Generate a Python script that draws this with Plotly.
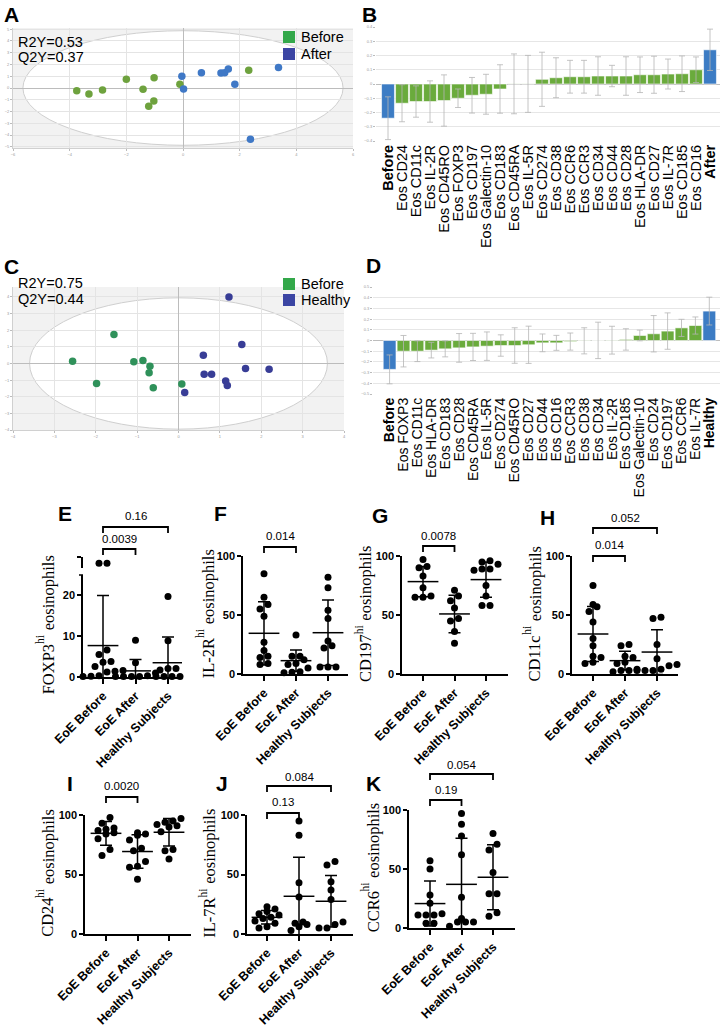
import plotly.graph_objects as go

W, H = 724, 1026
def PX(x): return x / W
def PY(y): return 1 - y / H

SANS = "Liberation Sans, Arial, sans-serif"
SERIF = "Liberation Serif, Times New Roman, serif"

# ---------------- DATA ----------------
# Panel A (scores, Before vs After)
a_before_x = [-3.75, -3.32, -2.84, -2.0, -1.41, -1.02, -1.03, -1.21, -0.11, 2.32]
a_before_y = [-0.23, -0.51, -0.17, 0.74, -0.11, 0.88, -1.11, -1.55, 0.31, 1.5]
a_after_x = [-0.04, 0.02, 0.65, 1.34, 1.47, 1.6, 1.83, 3.37, 2.38]
a_after_y = [0.99, -0.09, 1.3, 1.27, 1.3, 1.61, 0.31, 1.75, -4.35]
a_stats = ["R2Y=0.53", "Q2Y=0.37"]
a_legend = ["Before", "After"]

# Panel B (loadings, Before vs After)
b_cats = ["Before", "Eos CD24", "Eos CD11c", "Eos IL-2R", "Eos CD45RO", "Eos FOXP3", "Eos CD197",
          "Eos Galectin-10", "Eos CD183", "Eos CD45RA", "Eos IL-5R", "Eos CD274", "Eos CD38", "Eos CCR6",
          "Eos CCR3", "Eos CD34", "Eos CD44", "Eos CD28", "Eos HLA-DR", "Eos CD27", "Eos IL-7R",
          "Eos CD185", "Eos CD16", "After"]
b_vals = [-0.24, -0.135, -0.123, -0.123, -0.116, -0.10, -0.079, -0.072, -0.035, 0.001, 0.001, 0.033,
          0.044, 0.051, 0.051, 0.056, 0.056, 0.056, 0.065, 0.065, 0.07, 0.072, 0.10, 0.24]
b_err = [0.15, 0.13, 0.11, 0.145, 0.18, 0.065, 0.125, 0.14, 0.17, 0.21, 0.2, 0.19, 0.14, 0.115,
         0.115, 0.135, 0.075, 0.135, 0.125, 0.13, 0.105, 0.125, 0.09, 0.145]

# Panel C (scores, Before vs Healthy)
c_before_x = [-1.56, -2.56, -1.98, -1.08, -0.86, -0.69, -0.71, -0.61, 0.08]
c_before_y = [1.75, 0.14, -1.2, 0.1, 0.18, -0.16, -0.56, -1.46, -1.24]
c_healthy_x = [1.22, 1.53, 0.6, 0.62, 0.8, 1.62, 2.19, 1.14, 1.18, 0.15]
c_healthy_y = [4.0, 1.14, 0.5, -0.64, -0.64, -0.3, -0.34, -1.06, -1.32, -1.74]
c_stats = ["R2Y=0.75", "Q2Y=0.44"]
c_legend = ["Before", "Healthy"]

# Panel D (loadings, Before vs Healthy)
d_cats = ["Before", "Eos FOXP3", "Eos CD11c", "Eos HLA-DR", "Eos CD183", "Eos CD28", "Eos CD45RA",
          "Eos IL-5R", "Eos CD274", "Eos CD45RO", "Eos CD27", "Eos CD44", "Eos CD16", "Eos CCR3",
          "Eos CD38", "Eos CD34", "Eos IL-2R", "Eos CD185", "Eos Galectin-10", "Eos CD24",
          "Eos CD197", "Eos CCR6", "Eos IL-7R", "Healthy"]
d_vals = [-0.27, -0.10, -0.10, -0.09, -0.078, -0.069, -0.06, -0.053, -0.047, -0.047, -0.04, -0.022,
          -0.022, -0.01, -0.003, 0.001, 0.003, 0.01, 0.047, 0.063, 0.088, 0.118, 0.14, 0.275]
d_err = [0.135, 0.147, 0.097, 0.073, 0.075, 0.134, 0.127, 0.133, 0.10, 0.166, 0.174, 0.083, 0.07,
         0.08, 0.122, 0.17, 0.13, 0.10, 0.05, 0.17, 0.17, 0.08, 0.08, 0.13]

# Dot plots E-K
groups = ["EoE Before", "EoE After", "Healthy Subjects"]

E_vals = [[36, 36, 6.6, 5.5, 3.8, 3.6, 2.6, 1.6, 1.4, 1.2, 0.3, 0.2, 0.1],
          [9.0, 3.5, 1.0, 0.3, 0.1, 0.1, 0.1, 0.1],
          [19.7, 8.9, 2.1, 2.1, 1.7, 0.1, 0.1, 0.1, 0.1]]
E_mean = [7.7, 1.5, 3.5]
E_sd = [12.3, 2.8, 6.3]
E_p = ["0.0039", "0.16"]

F_vals = [[85, 65, 59, 55, 49, 27, 20, 15, 14, 9, 8],
          [33, 15, 15, 12, 9, 8, 5, 2, 1.5, 1],
          [82, 73, 54, 47, 28, 24, 22, 6, 6, 6]]
F_mean = [34.5, 11.3, 35.0]
F_sd = [26.8, 9.0, 27.7]
F_p = ["0.014"]

G_vals = [[97, 91, 90, 83, 73, 66, 65, 65],
          [71, 66, 62, 56, 47, 45, 36, 26],
          [96, 95, 93, 89, 89, 88, 75, 66, 58, 58]]
G_mean = [78.3, 50.9, 80.0]
G_sd = [12.8, 15.9, 15.0]
G_p = ["0.0078"]

H_vals = [[75, 59, 57, 53, 44, 30, 24, 15, 14, 10, 9],
          [25, 24, 15, 14, 10, 9, 4, 3, 3, 2],
          [48, 47, 25, 13, 8, 7, 4, 3, 3, 3]]
H_mean = [33.9, 11.3, 18.6]
H_sd = [23.4, 7.9, 19.0]
H_p = ["0.014", "0.052"]

I_vals = [[98, 93, 89, 88, 87, 85, 84, 80, 71, 66],
          [85, 84, 83, 79, 72, 70, 61, 57, 56, 46],
          [97, 95, 94, 92, 91, 90, 86, 71, 70, 63]]
I_mean = [84.6, 69.3, 85.5]
I_sd = [10.0, 14.0, 11.6]
I_p = ["0.0020"]

J_vals = [[23, 21, 19, 17, 16, 14, 13, 11, 9, 6, 5],
          [95, 83, 43, 31, 10, 9, 8, 6, 3],
          [61, 58, 44, 37, 29, 10, 8, 5, 5]]
J_mean = [14.0, 31.7, 27.5]
J_sd = [5.7, 32.9, 21.7]
J_p = ["0.13", "0.084"]

K_vals = [[57, 50, 28, 21, 12, 11, 11, 11, 4, 4],
          [97, 88, 78, 62, 26, 8, 5, 5, 5, 1.5],
          [80, 71, 66, 47, 29, 29, 13, 10]]
K_mean = [20.7, 37.0, 43.0]
K_sd = [19.1, 39.0, 27.5]
K_p = ["0.19", "0.054"]

# ---------------- FIGURE ----------------
fig = go.Figure()
shapes, annots = [], []
layout = dict(width=W, height=H, margin=dict(l=0, r=0, t=0, b=0, autoexpand=False),
              paper_bgcolor="white", plot_bgcolor="white", showlegend=False,
              font=dict(family=SANS, color="black"))

def label(letter, x, y, size=21):
    annots.append(dict(text=letter, x=PX(x), y=PY(y), xref="paper", yref="paper",
                       showarrow=False, xanchor="center", yanchor="middle",
                       font=dict(family=SANS, size=size, color="black", weight="bold")))

tiny = dict(size=4, color="#9a9a9a")

# Times / Liberation Serif advance widths (per 1000 em) for the title glyphs
TW = {"F": 556, "O": 722, "X": 722, "P": 556, "3": 500, "I": 333, "L": 611, "-": 333, "2": 500,
      "R": 667, "C": 667, "D": 722, "1": 500, "9": 500, "7": 500, "c": 444, "4": 500, "6": 500,
      " ": 250, "e": 444, "o": 500, "s": 389, "i": 278, "n": 500, "p": 500, "h": 500, "l": 278}
def twidth(t, size):
    return sum(TW.get(ch, 500) for ch in t) * size / 1000.0

def ytitle(xc, yc, marker, size=16.5):
    """Rotated title: '<marker>' + superscript 'hi' + ' eosinophils' (reads bottom to top)."""
    parts = [(marker, size, 0.0), ("hi", size * 0.7, -7.5), (" eosinophils", size, 0.0)]
    total = sum(twidth(t, s) for t, s, _ in parts)
    ybot = yc + total / 2
    for t, s, dx in parts:
        annots.append(dict(text=t, x=PX(xc + dx), y=PY(ybot), xref="paper", yref="paper",
                           showarrow=False, textangle=-90, xanchor="center", yanchor="bottom",
                           borderpad=0, font=dict(family=SERIF, size=s, color="black")))
        ybot -= twidth(t, s)

# ---- Score plots (A, C) ----
def score_panel(n, xl, xr, yt, yb, xrng, yrng, ell, gx, gy, bx, by, gcol, bcol, stats, legend,
                lgcol, lbcol, stat_y, leg_y, leg_x):
    xa, ya = ("xaxis" if n == 1 else f"xaxis{n}"), ("yaxis" if n == 1 else f"yaxis{n}")
    xr_, yr_ = ("x" if n == 1 else f"x{n}"), ("y" if n == 1 else f"y{n}")
    common = dict(showgrid=True, gridcolor="#e4e4e4", gridwidth=0.6, zeroline=True,
                  zerolinecolor="#bcbcbc", zerolinewidth=1, showline=True, linecolor="#d0d0d0",
                  ticks="outside", ticklen=2, tickcolor="#bbbbbb", tickfont=tiny, automargin=False)
    layout[xa] = dict(domain=[PX(xl), PX(xr)], range=xrng, dtick=1 if n == 3 else 2, anchor=yr_, **common)
    layout[ya] = dict(domain=[PY(yb), PY(yt)], range=yrng, dtick=1, anchor=xr_, **common)
    shapes.append(dict(type="rect", xref=f"{xr_} domain", yref=f"{yr_} domain", x0=0, x1=1, y0=0, y1=1,
                       fillcolor="#f2f2f2", line=dict(width=0), layer="below"))
    shapes.append(dict(type="circle", xref=xr_, yref=yr_, x0=-ell[0], x1=ell[0], y0=-ell[1], y1=ell[1],
                       fillcolor="white", line=dict(color="#cfcfcf", width=1), layer="below"))
    fig.add_trace(go.Scatter(x=gx, y=gy, mode="markers", xaxis=xr_, yaxis=yr_,
                             marker=dict(size=7.5, color=gcol), cliponaxis=False))
    fig.add_trace(go.Scatter(x=bx, y=by, mode="markers", xaxis=xr_, yaxis=yr_,
                             marker=dict(size=7.5, color=bcol), cliponaxis=False))
    for k, t in enumerate(stats):
        annots.append(dict(text=t, x=PX(xl + 3), y=PY(stat_y[k]), xref="paper", yref="paper",
                           showarrow=False, xanchor="left", yanchor="middle",
                           font=dict(family=SANS, size=14.5, color="black")))
    for k, (t, c) in enumerate(zip(legend, [lgcol, lbcol])):
        cy = leg_y[k]
        shapes.append(dict(type="rect", xref="paper", yref="paper", x0=PX(leg_x), x1=PX(leg_x + 12),
                           y0=PY(cy + 6), y1=PY(cy - 6), fillcolor=c, line=dict(width=0)))
        annots.append(dict(text=t, x=PX(leg_x + 16), y=PY(cy), xref="paper", yref="paper",
                           showarrow=False, xanchor="left", yanchor="middle",
                           font=dict(family=SANS, size=14.5, color="black")))

score_panel(1, 13, 353, 28, 148, [-6, 6], [-5.1, 5.1], (5.65, 4.87),
            a_before_x, a_before_y, a_after_x, a_after_y, "#6ea23e", "#3f78c6",
            a_stats, a_legend, "#33a84a", "#3b45a3", [42, 57], [37, 54], 283)
score_panel(3, 13, 344, 287, 430, [-4, 4], [-4, 4.6], (3.6, 3.95),
            c_before_x, c_before_y, c_healthy_x, c_healthy_y, "#2f915a", "#383d96",
            c_stats, c_legend, "#33a84a", "#3b45a3", [283, 299], [284, 300], 283)
label("A", 11, 15)
label("C", 11, 266)

# ---- Loading bar plots (B, D) ----
def bar_panel(n, xl, xr, yt, yb, cats, vals, errs, lim, c0px, step, fsize):
    xa, ya, xr_, yr_ = f"xaxis{n}", f"yaxis{n}", f"x{n}", f"y{n}"
    rng = [(xl - c0px) / step, (xr - c0px) / step]
    ticktext = [f"<b>{c}</b>" if k in (0, len(cats) - 1) else c for k, c in enumerate(cats)]
    layout[xa] = dict(domain=[PX(xl), PX(xr)], type="category", range=rng, anchor=yr_,
                      tickmode="array", tickvals=cats, ticktext=ticktext, tickangle=-90,
                      tickfont=dict(family=SANS, size=fsize, color="black"), ticks="",
                      showgrid=False, zeroline=False, showline=False, automargin=False)
    layout[ya] = dict(domain=[PY(yb), PY(yt)], range=[-lim, lim], dtick=0.1, anchor=xr_,
                      showgrid=True, gridcolor="#e6e6e6", gridwidth=0.6, zeroline=True,
                      zerolinecolor="#bdbdbd", zerolinewidth=1, showline=False,
                      ticks="outside", ticklen=2, tickcolor="#bbbbbb", tickfont=tiny, automargin=False)
    cols = ["#3c7cc4" if k in (0, len(cats) - 1) else "#6aab3c" for k in range(len(cats))]
    fig.add_trace(go.Bar(x=cats, y=vals, xaxis=xr_, yaxis=yr_, width=0.92,
                         marker=dict(color=cols, line=dict(color="white", width=0.6)),
                         error_y=dict(type="data", array=errs, color="#b5b5b5", thickness=0.8, width=3)))

bar_panel(2, 376, 720, 27, 141, b_cats, b_vals, b_err, 0.4, 388, 14.0, 14.5)
bar_panel(4, 373, 720, 287, 394, d_cats, d_vals, d_err, 0.5, 389.6, 13.9, 14.0)
label("B", 369, 15)
label("D", 374, 265)

# ---- Dot plots (E-K) ----
def swarm(vals, ppu, spacing=8.0, thresh=6.5):
    idx = sorted(range(len(vals)), key=lambda i: vals[i])
    rows = []
    for i in idx:
        if rows and abs(vals[i] - vals[rows[-1][0]]) * ppu < thresh:
            rows[-1].append(i)
        else:
            rows.append([i])
    offs = [0.0] * len(vals)
    for r in rows:
        for k, i in enumerate(r):
            offs[i] = (k - (len(r) - 1) / 2) * spacing
    return offs

geo_title = {5: 48, 7: 208, 8: 366, 9: 535, 10: 48, 11: 210, 12: 373}

def dot_panel(n, geo, vals, means, sds, marker, pvals, brackets, letter, lpos, ticks, break_at=None):
    xl, xr, c0, s, y0, ytop, vtop = geo
    xa, ya, xr_, yr_ = f"xaxis{n}", f"yaxis{n}", f"x{n}", f"y{n}"
    ppu = (y0 - ytop) / vtop
    layout[xa] = dict(domain=[PX(xl), PX(xr)], range=[(xl - c0) / s, (xr - c0) / s], anchor=yr_,
                      tickmode="array", tickvals=[0, 1, 2], ticktext=groups, tickangle=-45,
                      tickfont=dict(family=SANS, size=12.5, color="black", weight="bold"),
                      ticks="outside", ticklen=5, tickwidth=1.5, tickcolor="black", automargin=False,
                      showline=True, linecolor="black", linewidth=1.5, showgrid=False, zeroline=False)
    layout[ya] = dict(domain=[PY(y0), PY(ytop)], range=[0, vtop], anchor=xr_,
                      tickmode="array", tickvals=ticks, ticktext=[str(t) for t in ticks],
                      tickfont=dict(family=SANS, size=11, color="black", weight="bold"),
                      ticks="outside", ticklen=4, tickwidth=1.5, tickcolor="black", automargin=False,
                      showline=True, linecolor="black", linewidth=1.5, showgrid=False, zeroline=False)
    upper_x, upper_y = [], []
    for g, v in enumerate(vals):
        offs = swarm(v, ppu)
        lx, ly = [], []
        for val, o in zip(v, offs):
            if break_at is not None and val > break_at:
                upper_x.append(g + o / s)
                upper_y.append(val)
            else:
                lx.append(g + o / s)
                ly.append(val)
        fig.add_trace(go.Scatter(x=lx, y=ly, mode="markers", xaxis=xr_, yaxis=yr_, cliponaxis=False,
                                 marker=dict(size=7, color="black")))
    fig.add_trace(go.Scatter(x=[0, 1, 2], y=means, mode="markers", xaxis=xr_, yaxis=yr_, cliponaxis=True,
                             marker=dict(symbol="line-ew", size=22, color="black",
                                         line=dict(width=1.5, color="black")),
                             error_y=dict(type="data", array=sds, color="black", thickness=1.5, width=6)))
    if break_at is not None:
        shapes.append(dict(type="line", xref="paper", yref="paper", x0=PX(xl - 4), x1=PX(xl),
                           y0=PY(ytop), y1=PY(ytop), line=dict(color="black", width=1.5)))
        un = n + 1
        ya2, yr2 = f"yaxis{un}", f"y{un}"
        layout[ya2] = dict(domain=[PY(568), PY(557)], range=[33, 40], anchor=xr_,
                           tickmode="array", tickvals=[40], showticklabels=False, automargin=False,
                           ticks="outside", ticklen=4, tickwidth=1.5, tickcolor="black",
                           showline=True, linecolor="black", linewidth=1.5, showgrid=False, zeroline=False)
        fig.add_trace(go.Scatter(x=upper_x, y=upper_y, mode="markers", xaxis=xr_, yaxis=yr2,
                                 cliponaxis=False, marker=dict(size=7, color="black")))
    ytitle(geo_title[n], (y0 + ytop) / 2, marker)
    for p, (gi, gj, ly, ty) in zip(pvals, brackets):
        xa_px, xb_px = c0 + gi * s, c0 + gj * s
        path = (f"M {PX(xa_px)},{PY(ly + 6)} L {PX(xa_px)},{PY(ly)} L {PX(xb_px)},{PY(ly)} "
                f"L {PX(xb_px)},{PY(ly + 6)}")
        shapes.append(dict(type="path", xref="paper", yref="paper", path=path,
                           line=dict(color="black", width=1.8)))
        annots.append(dict(text=p, x=PX((xa_px + xb_px) / 2), y=PY(ty), xref="paper", yref="paper",
                           showarrow=False, xanchor="center", yanchor="middle",
                           font=dict(family=SANS, size=11.5, color="black")))
    label(letter, lpos[0], lpos[1])

dot_panel(5, (83, 182, 103, 32.5, 677, 575, 25), E_vals, E_mean, E_sd,
          "FOXP3", E_p, [(0, 1, 549, 539), (0, 2, 527, 516)],
          "E", (65, 513), [0, 10, 20], break_at=25)
dot_panel(7, (243, 348, 264, 32, 674, 556, 100), F_vals, F_mean, F_sd,
          "IL-2R", F_p, [(0, 1, 547, 536)], "F", (220, 513), [0, 50, 100])
dot_panel(8, (402, 508, 423, 31.5, 674, 556, 100), G_vals, G_mean, G_sd,
          "CD197", G_p, [(0, 1, 546, 536)], "G", (380, 515), [0, 50, 100])
dot_panel(9, (572, 678, 593, 32, 674, 556, 100), H_vals, H_mean, H_sd,
          "CD11c", H_p, [(0, 1, 556, 545), (0, 2, 528, 518)],
          "H", (547, 517), [0, 50, 100])
dot_panel(10, (85, 191, 106, 31.5, 934, 815, 100), I_vals, I_mean, I_sd,
          "CD24", I_p, [(0, 1, 797, 786)], "I", (70, 783), [0, 50, 100])
dot_panel(11, (247, 353, 267, 32, 934, 815, 100), J_vals, J_mean, J_sd,
          "IL-7R", J_p, [(0, 1, 813, 802), (0, 2, 786, 777)],
          "J", (222, 783), [0, 50, 100])
dot_panel(12, (409, 515, 430, 31.5, 928, 810, 100), K_vals, K_mean, K_sd,
          "CCR6", K_p, [(0, 1, 800, 790), (0, 2, 774, 765)],
          "K", (374, 783), [0, 50, 100])

layout["shapes"] = shapes
layout["annotations"] = annots
fig.update_layout(**layout)
fig.write_html("out.html")
